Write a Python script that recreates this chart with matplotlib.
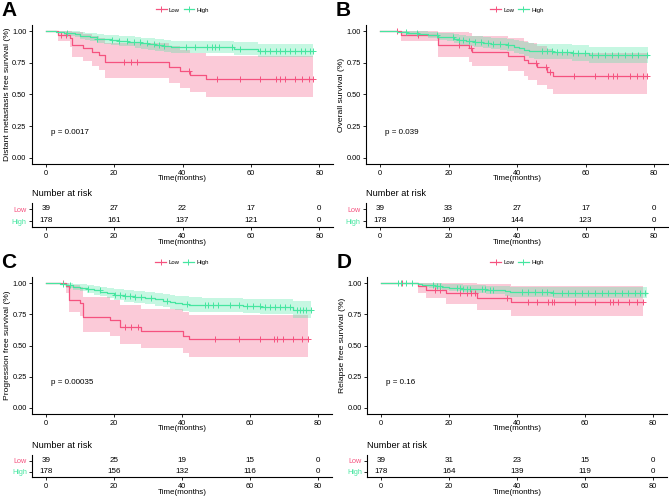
import numpy as np
import matplotlib
matplotlib.use('Agg')
import matplotlib.pyplot as plt
from matplotlib.lines import Line2D

plt.rcParams['font.family'] = ['Liberation Sans', 'DejaVu Sans']

LOW_COLOR = '#F5527F'
HIGH_COLOR = '#45E6A0'

groups = ['Low', 'High']
risk_times = [0, 20, 40, 60, 80]
x_ticks = [0, 20, 40, 60, 80]
y_ticks = [0.0, 0.25, 0.50, 0.75, 1.00]
y_ticklabels = ['0.00', '0.25', '0.50', '0.75', '1.00']

# ---------------- Panel A: distant metastasis free survival ----------------
a_low_t = [0, 3.6, 7.0, 7.6, 11.0, 13.6, 15.5, 17.4, 36.0, 39.4, 42.3, 47.0]
a_low_s = [1.0, 0.974, 0.947, 0.893, 0.866, 0.839, 0.812, 0.758, 0.72, 0.686, 0.655, 0.624]
a_low_lo = [1.0, 0.925, 0.878, 0.80, 0.763, 0.729, 0.696, 0.632, 0.59, 0.552, 0.516, 0.482]
a_low_hi = [1.0, 1.0, 1.0, 0.998, 0.98, 0.966, 0.948, 0.909, 0.88, 0.853, 0.831, 0.808]
a_low_cens = [4.4, 5.8, 22.8, 24.8, 26.7, 41.8, 50.1, 56.9, 62.8, 67.2, 68.6, 70.1, 73.0, 74.9, 76.9, 78.2]
a_low_end = 78.2
a_high_t = [0, 3.0, 5.5, 7.0, 8.5, 10.0, 11.5, 13.0, 15.0, 17.0, 19.0, 21.5, 24.0, 26.0, 28.0, 30.0, 32.0, 34.5, 36.5, 55.0, 62.2]
a_high_s = [1.0, 0.994, 0.989, 0.983, 0.977, 0.966, 0.960, 0.954, 0.943, 0.937, 0.931, 0.925, 0.919, 0.912, 0.906, 0.899, 0.893, 0.886, 0.876, 0.863, 0.847]
a_high_lo = [1.0, 0.983, 0.974, 0.965, 0.955, 0.940, 0.932, 0.924, 0.910, 0.902, 0.895, 0.887, 0.880, 0.871, 0.864, 0.855, 0.848, 0.839, 0.828, 0.813, 0.794]
a_high_hi = [1.0, 1.0, 1.0, 1.0, 0.999, 0.993, 0.989, 0.985, 0.978, 0.973, 0.969, 0.965, 0.960, 0.955, 0.951, 0.945, 0.941, 0.935, 0.926, 0.916, 0.903]
a_high_cens = [6.3, 15.1, 19.5, 21.5, 23.8, 25.8, 27.7, 29.7, 31.6, 33.0, 34.5, 40.9, 43.8, 47.2, 48.7, 49.6, 50.6, 54.5, 56.7,
               62.8, 64.2, 65.7, 67.2, 68.6, 70.1, 71.5, 73.0, 74.5, 75.9, 77.4, 78.2]
a_high_end = 78.2
a_risk_low = [39, 27, 22, 17, 0]
a_risk_high = [178, 161, 137, 121, 0]
a_pval = 'p = 0.0017'
a_ylabel = 'Distant metastasis free survival (%)'

# ---------------- Panel B: overall survival ----------------
b_low_t = [0, 6.0, 17.0, 26.0, 27.0, 37.3, 42.0, 43.3, 45.8, 48.8, 50.6]
b_low_s = [1.0, 0.974, 0.893, 0.865, 0.836, 0.806, 0.776, 0.746, 0.715, 0.682, 0.648]
b_low_lo = [1.0, 0.924, 0.80, 0.761, 0.724, 0.687, 0.65, 0.615, 0.579, 0.542, 0.505]
b_low_hi = [1.0, 1.0, 0.998, 0.983, 0.966, 0.946, 0.926, 0.905, 0.882, 0.858, 0.832]
b_low_cens = [5.0, 11.2, 23.1, 26.5, 45.6, 48.4, 49.5, 56.6, 62.7, 66.6, 67.9, 69.3, 72.9, 74.9, 76.9, 78.1]
b_low_end = 78.1
b_high_t = [0, 5, 8, 11, 14, 17, 19.5, 21.5, 23, 25, 27.5, 30, 32.5, 35, 37, 39, 40.5, 42, 43.5, 45, 50.5, 56, 61]
b_high_s = [1, 0.994, 0.988, 0.982, 0.970, 0.958, 0.952, 0.940, 0.928, 0.922, 0.916, 0.909, 0.903, 0.896, 0.889,
            0.876, 0.869, 0.855, 0.848, 0.841, 0.834, 0.826, 0.812]
b_high_lo = [1, 0.983, 0.972, 0.963, 0.945, 0.928, 0.920, 0.905, 0.889, 0.882, 0.874, 0.865, 0.858, 0.849, 0.841,
             0.825, 0.817, 0.801, 0.792, 0.784, 0.777, 0.768, 0.752]
b_high_hi = [1, 1, 1, 1, 0.996, 0.989, 0.985, 0.977, 0.968, 0.964, 0.960, 0.955, 0.951, 0.945, 0.940,
             0.930, 0.924, 0.913, 0.907, 0.902, 0.896, 0.889, 0.877]
b_high_cens = [7.5, 10.7, 16.5, 21.4, 23.0, 24.3, 26.0, 27.7, 29.5, 31.6, 33.0, 35.0, 37.4, 47.2, 48.7, 50.1, 51.6,
               53.0, 54.5, 56.4, 57.9, 59.9, 61.8, 63.7, 65.7, 67.6, 69.6, 71.5, 73.5, 75.4, 77.9]
b_high_end = 78.2
b_risk_low = [39, 33, 27, 17, 0]
b_risk_high = [178, 169, 144, 123, 0]
b_pval = 'p = 0.039'
b_ylabel = 'Overall survival (%)'

# ---------------- Panel C: progression free survival ----------------
c_low_t = [0, 5.8, 6.9, 9.9, 10.9, 18.7, 21.9, 27.8, 40.4, 42.0]
c_low_s = [1.0, 0.974, 0.868, 0.842, 0.732, 0.705, 0.648, 0.614, 0.58, 0.55]
c_low_lo = [1.0, 0.924, 0.768, 0.734, 0.605, 0.574, 0.51, 0.476, 0.44, 0.407]
c_low_hi = [1.0, 1.0, 0.982, 0.966, 0.89, 0.866, 0.823, 0.797, 0.77, 0.745]
c_low_cens = [5.0, 23.2, 25.1, 27.1, 49.7, 56.8, 62.9, 67.2, 68.0, 69.8, 72.7, 75.2, 77.0]
c_low_end = 77.0
c_high_t = [0, 4, 6, 8, 10, 12, 14, 16, 18, 20, 23, 26, 29, 32, 34.5, 36.5, 38, 40, 42, 46, 58, 63, 72.7]
c_high_s = [1, 0.994, 0.983, 0.972, 0.965, 0.955, 0.943, 0.932, 0.920, 0.906, 0.897, 0.890, 0.879, 0.870, 0.860,
            0.848, 0.840, 0.834, 0.826, 0.822, 0.815, 0.808, 0.787]
c_high_lo = [1, 0.982, 0.964, 0.947, 0.938, 0.924, 0.909, 0.894, 0.880, 0.862, 0.852, 0.843, 0.830, 0.819, 0.808,
             0.794, 0.785, 0.778, 0.769, 0.765, 0.757, 0.749, 0.724]
c_high_hi = [1, 1, 1, 0.997, 0.993, 0.987, 0.979, 0.971, 0.962, 0.952, 0.945, 0.939, 0.931, 0.924, 0.915,
             0.905, 0.899, 0.894, 0.887, 0.883, 0.877, 0.871, 0.855]
c_high_cens = [5.0, 7.0, 12.4, 15.9, 20.3, 21.7, 23.2, 24.7, 26.1, 28.0, 31.0, 35.5, 41.5, 46.7, 47.7, 49.2, 50.6,
               54.2, 56.8, 59.0, 60.9, 62.9, 64.3, 65.8, 67.3, 68.8, 70.2, 71.7, 73.7, 74.7, 75.7, 76.6, 77.8]
c_high_end = 78.0
c_risk_low = [39, 25, 19, 15, 0]
c_risk_high = [178, 156, 132, 116, 0]
c_pval = 'p = 0.00035'
c_ylabel = 'Progression free survival (%)'

# ---------------- Panel D: relapse free survival ----------------
d_low_t = [0, 11.0, 13.1, 19.1, 28.3, 38.1]
d_low_s = [1.0, 0.974, 0.947, 0.919, 0.884, 0.848]
d_low_lo = [1.0, 0.924, 0.879, 0.836, 0.785, 0.733]
d_low_hi = [1.0, 1.0, 1.0, 1.0, 0.995, 0.981]
d_low_cens = [6.2, 16.0, 17.3, 23.2, 25.2, 26.5, 27.6, 37.0, 43.3, 46.0, 49.2, 50.2, 51.0, 57.1, 62.9, 67.4, 68.3,
              69.8, 73.0, 75.2, 77.2]
d_low_end = 77.2
d_high_t = [0, 11, 12, 14, 16, 18, 20, 24, 27, 31, 36.5, 38, 50.5]
d_high_s = [1, 0.994, 0.988, 0.982, 0.976, 0.970, 0.963, 0.957, 0.951, 0.945, 0.938, 0.931, 0.924]
d_high_lo = [1, 0.982, 0.972, 0.962, 0.953, 0.944, 0.935, 0.926, 0.918, 0.910, 0.901, 0.892, 0.883]
d_high_hi = [1, 1, 1, 1, 0.999, 0.996, 0.992, 0.989, 0.985, 0.981, 0.977, 0.972, 0.967]
d_high_cens = [4.9, 5.9, 7.4, 9.1, 15.4, 16.4, 17.4, 22.3, 23.2, 24.2, 25.2, 26.2, 29.6, 30.6, 32.1, 33.0, 41.4,
               43.3, 45.3, 47.3, 48.7, 50.7, 53.1, 55.1, 57.1, 59.0, 61.0, 62.9, 64.9, 66.9, 68.8, 70.8, 72.7,
               74.7, 76.2, 77.6]
d_high_end = 78.2
d_risk_low = [39, 31, 23, 15, 0]
d_risk_high = [178, 164, 139, 119, 0]
d_pval = 'p = 0.16'
d_ylabel = 'Relapse free survival (%)'

W, H = 669, 496
fig = plt.figure(figsize=(W / 100, H / 100), dpi=100)


def px_axes(l, t, r, b):
    return fig.add_axes([l / W, 1 - b / H, (r - l) / W, (b - t) / H])


def ftext(x, y, s, **kw):
    return fig.text(x / W, 1 - y / H, s, **kw)


def draw_km(ax, t, s, lo, hi, end, color, fill_only=False, line_only=False, cens=None):
    tt = np.append(np.asarray(t, float), end)
    ss = np.append(s, s[-1])
    ll = np.append(lo, lo[-1])
    hh = np.append(hi, hi[-1])
    if not line_only:
        ax.fill_between(tt, ll, hh, step='post', color=color, alpha=0.3, lw=0)
    if not fill_only:
        ax.step(tt, ss, where='post', color=color, lw=0.9)
        idx = np.searchsorted(np.asarray(t, float), cens, side='right') - 1
        ax.plot(cens, np.asarray(s)[idx], ls='none', marker='+', ms=4, mew=0.7, color=color)


def style_axes(ax):
    for sp in ['top', 'right']:
        ax.spines[sp].set_visible(False)
    for sp in ['left', 'bottom']:
        ax.spines[sp].set_linewidth(0.8)
    ax.tick_params(length=2.5, width=0.6, pad=1.5, labelsize=5.3, colors='black')
    ax.set_xlim(-4, 84)


def panel(letter, box, tbox, low, high, risk_low, risk_high, pval, ylabel):
    l, t, r, b = box
    ax = px_axes(l, t, r, b)
    style_axes(ax)
    ax.set_ylim(-0.05, 1.05)
    ax.set_xticks(x_ticks)
    ax.set_yticks(y_ticks)
    ax.set_yticklabels(y_ticklabels)
    draw_km(ax, *low[:5], LOW_COLOR, fill_only=True)
    draw_km(ax, *high[:5], HIGH_COLOR, fill_only=True)
    draw_km(ax, *low[:5], LOW_COLOR, line_only=True, cens=low[5])
    draw_km(ax, *high[:5], HIGH_COLOR, line_only=True, cens=high[5])
    ax.text(1.5, 0.2, pval, fontsize=5.8, ha='left', va='center')
    handles = [Line2D([0], [0], color=c, lw=0.9, marker='+', ms=4, mew=0.7) for c in (LOW_COLOR, HIGH_COLOR)]
    ax.legend(handles, groups, loc='center', bbox_to_anchor=(0.5, 1 + 15 / (b - t)), ncol=2, frameon=False,
              fontsize=4.3, handlelength=1.8, columnspacing=0.6, handletextpad=0.4, borderpad=0)
    ftext(l - 24.5, (t + b) / 2, ylabel, rotation=90, ha='center', va='center', fontsize=6.1)
    ftext((l + r) / 2, b + 15, 'Time(months)', ha='center', va='center', fontsize=5.8)
    ftext(l - 31, t - 15, letter, ha='left', va='center', fontsize=15, fontweight='bold')

    tl, tt_, tr, tb = tbox
    ta = px_axes(tl, tt_, tr, tb)
    style_axes(ta)
    ta.set_ylim(0.5, 2.5)
    ta.set_xticks(x_ticks)
    ta.set_yticks([2, 1])
    ta.set_yticklabels(groups)
    for lab, c in zip(ta.get_yticklabels(), (LOW_COLOR, HIGH_COLOR)):
        lab.set_color(c)
        lab.set_fontsize(5.2)
    for x, n1, n2 in zip(risk_times, risk_low, risk_high):
        ta.text(x, 2, str(n1), ha='center', va='center', fontsize=5.8)
        ta.text(x, 1, str(n2), ha='center', va='center', fontsize=5.8)
    ftext(tl, tt_ - 9, 'Number at risk', ha='left', va='center', fontsize=6.6)
    ftext((tl + tr) / 2, tb + 15, 'Time(months)', ha='center', va='center', fontsize=5.8)


panel('A', (32, 25, 333, 164), (32, 203, 333, 227),
      (a_low_t, a_low_s, a_low_lo, a_low_hi, a_low_end, a_low_cens),
      (a_high_t, a_high_s, a_high_lo, a_high_hi, a_high_end, a_high_cens),
      a_risk_low, a_risk_high, a_pval, a_ylabel)
panel('B', (366.3, 25, 667.7, 164), (366.3, 203, 667.7, 227),
      (b_low_t, b_low_s, b_low_lo, b_low_hi, b_low_end, b_low_cens),
      (b_high_t, b_high_s, b_high_lo, b_high_hi, b_high_end, b_high_cens),
      b_risk_low, b_risk_high, b_pval, b_ylabel)
panel('C', (32.4, 277, 331.6, 414), (32.4, 455, 331.6, 477),
      (c_low_t, c_low_s, c_low_lo, c_low_hi, c_low_end, c_low_cens),
      (c_high_t, c_high_s, c_high_lo, c_high_hi, c_high_end, c_high_cens),
      c_risk_low, c_risk_high, c_pval, c_ylabel)
panel('D', (367.4, 277, 666.6, 414), (367.4, 455, 666.6, 477),
      (d_low_t, d_low_s, d_low_lo, d_low_hi, d_low_end, d_low_cens),
      (d_high_t, d_high_s, d_high_lo, d_high_hi, d_high_end, d_high_cens),
      d_risk_low, d_risk_high, d_pval, d_ylabel)

fig.savefig('out.png', dpi=100)
